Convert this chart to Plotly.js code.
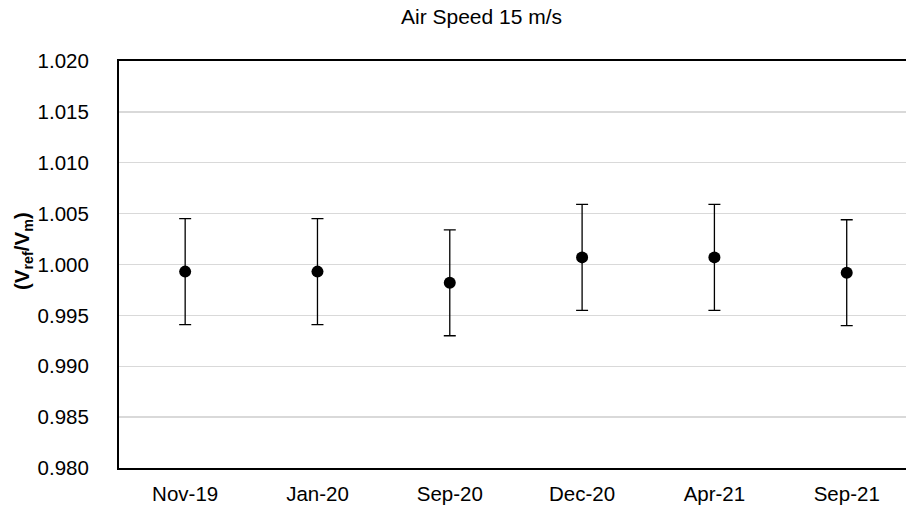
<!DOCTYPE html>
<html>
<head>
<meta charset="utf-8">
<script src="https://cdn.plot.ly/plotly-3.0.1.min.js"></script>
<style>html,body{margin:0;padding:0;background:#fff;}#chart{width:906px;height:511px;}</style>
</head>
<body>
<div id="chart"></div>
<script>
const categories = ["Nov-19", "Jan-20", "Sep-20", "Dec-20", "Apr-21", "Sep-21"];
const ratioValues = [0.9993, 0.9993, 0.9982, 1.0007, 1.0007, 0.9992];
const errorValues = [0.0052, 0.0052, 0.0052, 0.0052, 0.0052, 0.0052];
const yTickValues = [0.980, 0.985, 0.990, 0.995, 1.000, 1.005, 1.010, 1.015, 1.020];
const chartTitle = "Air Speed 15 m/s";
const yTitle = "<b>(V<sub>ref</sub>/V<sub>m</sub>)</b>";

const font = "Liberation Sans, Arial, sans-serif";

const trace = {
  x: categories,
  y: ratioValues,
  type: "scatter",
  mode: "markers",
  marker: {color: "#000000", size: 12},
  error_y: {type: "data", array: errorValues, visible: true, color: "#000000", thickness: 1.3, width: 6},
  hoverinfo: "x+y"
};

const layout = {
  width: 906,
  height: 511,
  margin: {l: 119, r: 0, t: 61, b: 43},
  paper_bgcolor: "#ffffff",
  plot_bgcolor: "#ffffff",
  showlegend: false,
  font: {family: font, color: "#000000"},
  title: {
    text: chartTitle,
    font: {family: font, size: 21, color: "#000000"},
    xref: "container", yref: "container",
    x: 481.5 / 906, y: 1 - 17 / 511,
    xanchor: "center", yanchor: "middle"
  },
  xaxis: {
    type: "category",
    range: [-0.5, 5.448],
    showline: true, linecolor: "#000000", linewidth: 2, mirror: true,
    showgrid: false, zeroline: false, ticks: "",
    ticklabelstandoff: 6,
    tickfont: {family: font, size: 20.5, color: "#000000"}
  },
  yaxis: {
    range: [0.980, 1.020],
    tickvals: yTickValues,
    tickformat: ".3f",
    showline: true, linecolor: "#000000", linewidth: 2, mirror: false,
    showgrid: true, gridcolor: "#d9d9d9", gridwidth: 1.3,
    zeroline: false, ticks: "",
    ticklabelstandoff: 24,
    tickfont: {family: font, size: 20.5, color: "#000000"}
  },
  annotations: [{
    text: yTitle,
    textangle: -90,
    xref: "paper", yref: "paper",
    x: (23 - 119) / 787, y: (468 - 251) / 407,
    xanchor: "center", yanchor: "middle",
    showarrow: false,
    font: {family: font, size: 20.5, color: "#000000"}
  }]
};

Plotly.newPlot("chart", [trace], layout, {displayModeBar: false, staticPlot: true});
</script>
</body>
</html>
